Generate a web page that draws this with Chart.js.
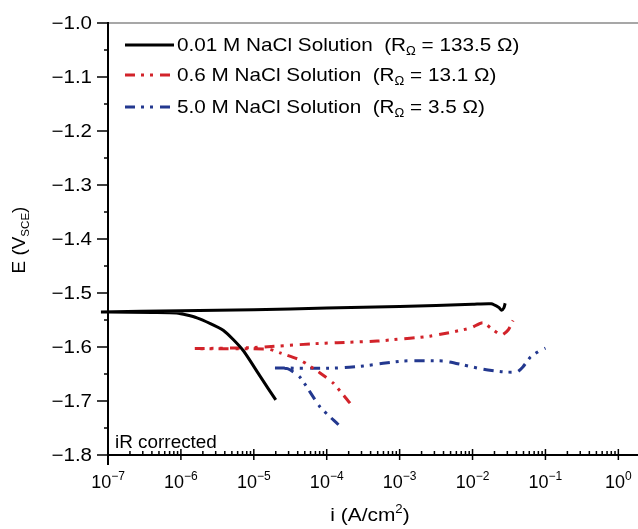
<!DOCTYPE html>
<html>
<head>
<meta charset="utf-8">
<script src="https://cdn.jsdelivr.net/npm/chart.js@4.4.1/dist/chart.umd.min.js"></script>
<style>
  html, body { margin: 0; padding: 0; background: #fff; }
  #wrap { width: 638px; height: 529px; }
</style>
</head>
<body>
<div id="wrap"><canvas id="chart" width="638" height="529"></canvas></div>
<script>
// Values: current density (A/cm2) and potential (V vs SCE)
const blackCathI = [2.0e-5, 1.23e-5, 7.1e-6, 3.8e-6, 1.66e-6, 8.7e-7, 4e-7, 1e-7, 8e-8];
const blackCathE = [-1.698, -1.655, -1.606, -1.569, -1.546, -1.537, -1.536, -1.535, -1.535];
const blackAnodI = [8e-8, 1e-6, 1e-5, 1e-4, 1e-3, 1e-2, 1.8e-2, 2.3e-2, 2.5e-2, 2.7e-2, 2.8e-2];
const blackAnodE = [-1.535, -1.533, -1.531, -1.528, -1.525, -1.521, -1.520, -1.527, -1.532, -1.527, -1.519];

const redCathI = [2.09e-4, 1.23e-4, 8.1e-5, 4.3e-5, 2.3e-5, 1.6e-5, 1.55e-6];
const redCathE = [-1.704, -1.667, -1.648, -1.624, -1.611, -1.604, -1.603];
const redAnodI = [1.55e-6, 1e-5, 6.5e-5, 1.4e-4, 4.9e-4, 7.4e-4, 2.6e-3, 9.3e-3, 1.38e-2, 1.9e-2, 2.5e-2, 3.1e-2, 3.6e-2];
const redAnodE = [-1.603, -1.601, -1.594, -1.592, -1.589, -1.587, -1.580, -1.565, -1.555, -1.568, -1.578, -1.568, -1.551];

const blueCathI = [1.45e-4, 8.1e-5, 4.3e-5, 2.9e-5, 1.95e-5];
const blueCathE = [-1.744, -1.711, -1.656, -1.640, -1.639];
const blueAnodI = [1.95e-5, 1.29e-4, 3.2e-4, 1.1e-3, 4e-3, 7.4e-3, 1.38e-2, 2.6e-2, 4.1e-2, 4.9e-2, 6.2e-2, 8.5e-2, 1.0e-1];
const blueAnodE = [-1.639, -1.639, -1.635, -1.626, -1.626, -1.633, -1.641, -1.646, -1.646, -1.637, -1.619, -1.606, -1.602];

const seriesNames = ['0.01 M NaCl Solution', '0.6 M NaCl Solution', '5.0 M NaCl Solution'];
const seriesR = ['133.5', '13.1', '3.5'];
const xTickExps = [-7, -6, -5, -4, -3, -2, -1, 0];
const yTickVals = [-1.0, -1.1, -1.2, -1.3, -1.4, -1.5, -1.6, -1.7, -1.8];

const FONT = '"Liberation Sans", Arial, Helvetica, sans-serif';
const dashDotDot = [10, 6, 3, 6, 3, 7];

// two branches in one dataset, with a break between them
function branches(cI, cE, aI, aE) {
  const pts = cI.map((v, k) => ({x: v, y: cE[k]}));
  pts.push({x: aI[0], y: null});
  aI.forEach((v, k) => pts.push({x: v, y: aE[k]}));
  return pts;
}

function measureRich(ctx, parts) {
  let w = 0;
  parts.forEach(p => {
    ctx.font = p[1] + 'px ' + FONT;
    w += ctx.measureText(p[0]).width;
  });
  return w;
}

// parts: [text, size, dy]; sx stretches the text horizontally
function richText(ctx, parts, x, y, sx) {
  sx = sx || 1;
  ctx.save();
  ctx.translate(x, y);
  ctx.scale(sx, 1);
  let cx = 0;
  parts.forEach(p => {
    ctx.font = p[1] + 'px ' + FONT;
    ctx.fillText(p[0], cx, p[2]);
    cx += ctx.measureText(p[0]).width;
  });
  ctx.restore();
  return cx * sx;
}

const decor = {
  id: 'decor',
  afterDraw(chart) {
    const ctx = chart.ctx;
    const a = chart.chartArea;
    const xs = chart.scales.x, ys = chart.scales.y;
    ctx.save();
    ctx.fillStyle = '#000';

    // top frame line
    ctx.strokeStyle = '#8a8a8a';
    ctx.lineWidth = 1.5;
    ctx.beginPath();
    ctx.moveTo(a.left, a.top);
    ctx.lineTo(a.right, a.top);
    ctx.stroke();

    // axis lines
    ctx.strokeStyle = '#000';
    ctx.lineWidth = 2;
    ctx.beginPath();
    ctx.moveTo(a.left, a.top - 1);
    ctx.lineTo(a.left, a.bottom + 10);
    ctx.moveTo(a.left, a.bottom);
    ctx.lineTo(a.right, a.bottom);
    ctx.stroke();

    // x ticks
    ctx.lineWidth = 1.5;
    ctx.beginPath();
    xTickExps.forEach(e => {
      const px = xs.getPixelForValue(Math.pow(10, e));
      ctx.moveTo(px, a.bottom + 5);
      ctx.lineTo(px, a.bottom - 6);
      for (let k = 2; k <= 9; k++) {
        const v = k * Math.pow(10, e);
        if (v > xs.max) break;
        const mx = xs.getPixelForValue(v);
        ctx.moveTo(mx, a.bottom);
        ctx.lineTo(mx, a.bottom - 4);
      }
    });
    // y ticks
    yTickVals.forEach(v => {
      const py = ys.getPixelForValue(v);
      ctx.moveTo(a.left - 11, py);
      ctx.lineTo(a.left, py);
      if (v > -1.8) {
        const my = ys.getPixelForValue(v - 0.05);
        ctx.moveTo(a.left - 4, my);
        ctx.lineTo(a.left + 1, my);
      }
    });
    ctx.stroke();

    // y tick labels
    ctx.textBaseline = 'middle';
    ctx.textAlign = 'left';
    yTickVals.forEach(v => {
      const parts = [['\u2212' + Math.abs(v).toFixed(1), 18, 0]];
      const w = measureRich(ctx, parts) * 1.14;
      richText(ctx, parts, a.left - 16 - w, ys.getPixelForValue(v) + 1, 1.14);
    });

    // x tick labels
    ctx.textBaseline = 'alphabetic';
    xTickExps.forEach(e => {
      const px = xs.getPixelForValue(Math.pow(10, e));
      const parts = [['10', 18, 0], [e === 0 ? '0' : '\u2212' + Math.abs(e), 12, -8]];
      const w = measureRich(ctx, parts);
      richText(ctx, parts, px - w / 2, a.bottom + 33);
    });

    // axis titles
    const xt = [['i (A/cm', 19, 0], ['2', 12, -8], [')', 19, 0]];
    richText(ctx, xt, 370 - measureRich(ctx, xt) * 1.1 / 2, 521, 1.1);

    ctx.save();
    ctx.translate(25, 240);
    ctx.rotate(-Math.PI / 2);
    const yt = [['E (V', 18, 0], ['SCE', 11, 4], [')', 18, 0]];
    richText(ctx, yt, -measureRich(ctx, yt) * 1.05 / 2, 0, 1.05);
    ctx.restore();

    // note
    richText(ctx, [['iR corrected', 18, 0]], a.left + 7, a.bottom - 7, 1.05);

    // legend
    const rows = [45, 75, 107];
    chart.data.datasets.forEach((ds, k) => {
      const ly = rows[k];
      ctx.save();
      ctx.strokeStyle = ds.borderColor;
      ctx.lineWidth = 3;
      ctx.setLineDash(ds.borderDash || []);
      ctx.beginPath();
      ctx.moveTo(125, ly);
      ctx.lineTo(174, ly);
      ctx.stroke();
      ctx.restore();
      ctx.fillStyle = '#000';
      ctx.textBaseline = 'middle';
      richText(ctx, [
        [seriesNames[k] + '  (R', 19, 0],
        ['\u03a9', 12, 6],
        [' = ' + seriesR[k] + ' \u03a9)', 19, 0]
      ], 177, ly + 1, 1.09);
    });
    ctx.restore();
  }
};

const ctx = document.getElementById('chart').getContext('2d');
new Chart(ctx, {
  type: 'line',
  data: {
    datasets: [
      {
        label: seriesNames[0],
        data: branches(blackCathI, blackCathE, blackAnodI, blackAnodE),
        borderColor: '#000000',
        borderWidth: 3,
        clip: false
      },
      {
        label: seriesNames[1],
        data: branches(redCathI, redCathE, redAnodI, redAnodE),
        borderColor: '#d2232a',
        borderWidth: 3,
        borderDash: dashDotDot
      },
      {
        label: seriesNames[2],
        data: branches(blueCathI, blueCathE, blueAnodI, blueAnodE),
        borderColor: '#23388f',
        borderWidth: 3,
        borderDash: dashDotDot
      }
    ]
  },
  options: {
    responsive: false,
    animation: false,
    spanGaps: false,
    layout: { padding: { left: 108, right: 0, top: 23, bottom: 74 } },
    elements: { point: { radius: 0 }, line: { tension: 0.2 } },
    plugins: { legend: { display: false }, tooltip: { enabled: false } },
    scales: {
      x: {
        type: 'logarithmic',
        min: 1e-7,
        max: 1.86,
        ticks: { display: false },
        grid: { display: false, drawTicks: false, tickLength: 0 },
        border: { display: false }
      },
      y: {
        type: 'linear',
        min: -1.8,
        max: -1.0,
        ticks: { display: false },
        grid: { display: false, drawTicks: false, tickLength: 0 },
        border: { display: false }
      }
    }
  },
  plugins: [decor]
});
</script>
</body>
</html>
